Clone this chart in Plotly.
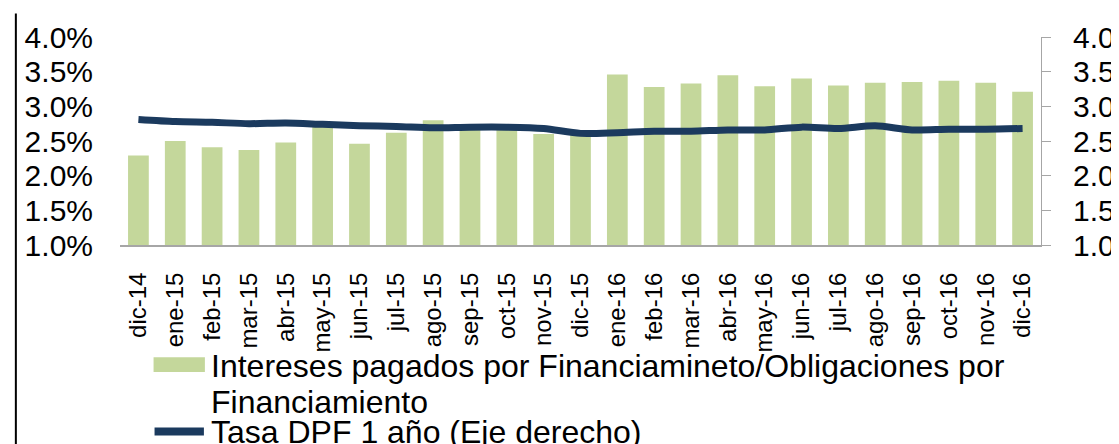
import plotly.graph_objects as go

categories = ["dic-14", "ene-15", "feb-15", "mar-15", "abr-15", "may-15", "jun-15",
              "jul-15", "ago-15", "sep-15", "oct-15", "nov-15", "dic-15", "ene-16",
              "feb-16", "mar-16", "abr-16", "may-16", "jun-16", "jul-16", "ago-16",
              "sep-16", "oct-16", "nov-16", "dic-16"]

# Intereses pagados por Financiamiento / Obligaciones por Financiamiento (%)
intereses = [2.29, 2.50, 2.41, 2.37, 2.48, 2.72, 2.46, 2.62, 2.80, 2.70, 2.70, 2.60,
             2.60, 3.46, 3.28, 3.33, 3.45, 3.29, 3.40, 3.30, 3.34, 3.35, 3.37, 3.34, 3.21]

# Tasa DPF 1 año (eje derecho)
tasa_dpf = [2.81, 2.78, 2.77, 2.75, 2.76, 2.74, 2.72, 2.71, 2.69, 2.70, 2.70, 2.68,
            2.61, 2.62, 2.64, 2.64, 2.66, 2.66, 2.70, 2.68, 2.72, 2.66, 2.67, 2.67, 2.68]

tick_vals = [1.0, 1.5, 2.0, 2.5, 3.0, 3.5, 4.0]
left_tick_text = ["1.0%", "1.5%", "2.0%", "2.5%", "3.0%", "3.5%", "4.0%"]
right_tick_text = ["1.0", "1.5", "2.0", "2.5", "3.0", "3.5", "4.0"]

name_bar_1 = "Intereses pagados por Financiamineto/Obligaciones por"
name_bar_2 = "Financiamiento"
name_line = "Tasa DPF 1 año (Eje derecho)"

BAR_COLOR = "#C4D79B"
LINE_COLOR = "#1B3A5E"
AXIS_GRAY = "#A6A6A6"
FONT = "Liberation Sans, Arial, sans-serif"
FS_Y = 30
FS_X = 24
FS_LEG = 32

W, H = 1119, 444
L, R, T, B = 112, 74, 24, 207
PW, PH = W - L - R, H - T - B


def px(x):
    return (x - L) / PW


def py(y):
    return 1 - (y - T) / PH


fig = go.Figure()
fig.add_trace(go.Bar(x=categories, y=intereses, name=name_bar_1 + " " + name_bar_2,
                     marker=dict(color=BAR_COLOR, line=dict(width=0)),
                     yaxis="y", showlegend=False))
fig.add_trace(go.Scatter(x=categories, y=tasa_dpf, name=name_line, mode="lines",
                         line=dict(color=LINE_COLOR, width=7, shape="spline", smoothing=0.8),
                         yaxis="y2", showlegend=False))

fig.update_layout(
    width=W, height=H,
    margin=dict(l=L, r=R, t=T, b=B, pad=0),
    paper_bgcolor="white", plot_bgcolor="white",
    font=dict(family=FONT, size=FS_Y, color="black"),
    bargap=0.437,
    showlegend=False,
    xaxis=dict(type="category", tickangle=-90, showline=True, linecolor=AXIS_GRAY,
               linewidth=2, ticks="", showgrid=False, zeroline=False,
               tickfont=dict(size=FS_X), ticklabelstandoff=16),
    yaxis=dict(range=[1, 4], tickvals=tick_vals, ticktext=left_tick_text,
               showline=False, showgrid=False, zeroline=False, ticks="",
               ticklabelstandoff=26),
    yaxis2=dict(range=[1, 4], tickvals=tick_vals, ticktext=right_tick_text, overlaying="y",
                side="right", showline=True, linecolor=AXIS_GRAY, linewidth=1,
                ticks="outside", ticklen=9, tickcolor=AXIS_GRAY, showgrid=False,
                zeroline=False, ticklabelstandoff=16),
)

# left frame border
fig.add_shape(type="line", xref="paper", yref="paper", x0=px(6.5), x1=px(6.5),
              y0=py(H), y1=py(0), line=dict(color="black", width=2))

# legend (manual, to match swatch sizes)
fig.add_shape(type="rect", xref="paper", yref="paper", x0=px(146), x1=px(198),
              y0=py(367), y1=py(352), line=dict(width=0), fillcolor=BAR_COLOR)
fig.add_shape(type="line", xref="paper", yref="paper", x0=px(147), x1=px(197),
              y0=py(428), y1=py(428), line=dict(color=LINE_COLOR, width=8))
for text, yc in [(name_bar_1, 361), (name_bar_2, 398), (name_line, 429)]:
    fig.add_annotation(xref="paper", yref="paper", x=px(202), y=py(yc), xanchor="left",
                       yanchor="middle", text=text, showarrow=False, align="left",
                       font=dict(size=FS_LEG, color="black"))

fig.write_html("out.html")
